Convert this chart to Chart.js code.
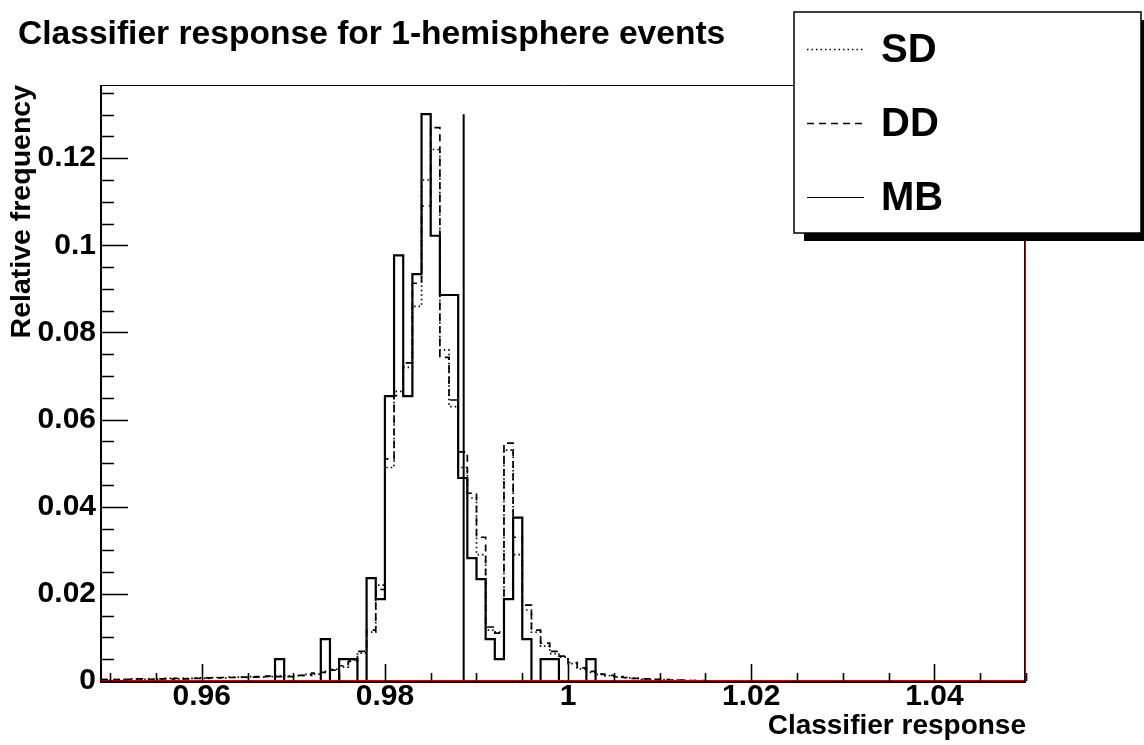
<!DOCTYPE html>
<html>
<head>
<meta charset="utf-8">
<title>Classifier response for 1-hemisphere events</title>
<script src="https://cdn.jsdelivr.net/npm/chart.js@4.4.0/dist/chart.umd.min.js"></script>
<style>
  html, body { margin: 0; padding: 0; background: #fff; }
  #wrap { width: 1144px; height: 745px; }
</style>
</head>
<body>
<div id="wrap"><canvas id="chart" width="1144" height="745"></canvas></div>
<script>
// binning: 101 bins of width 0.001 starting at 0.949
const binLow = 0.949;
const binWidth = 0.001;
const xRange = [0.949, 1.050];
const yRange = [0, 0.1368];

// relative frequency per bin, 10 bins per row
const sdValues = [
  0.0004, 0.0003, 0.0003, 0.0005, 0.0004, 0.0005, 0.0004, 0.0006, 0.0005, 0.0006,
  0.0007, 0.0006, 0.0008, 0.0007, 0.0009, 0.0008, 0.0010, 0.0009, 0.0010, 0.0012,
  0.0012, 0.0012, 0.0015, 0.0016, 0.0022, 0.0027, 0.0032, 0.0048, 0.0064, 0.0112,
  0.0220, 0.0490, 0.0665, 0.0720, 0.0860, 0.1150, 0.1220, 0.0760, 0.0630, 0.0490,
  0.0420, 0.0290, 0.0117, 0.0112, 0.0530, 0.0290, 0.0163, 0.0112, 0.0080, 0.0063,
  0.0055, 0.0040, 0.0028, 0.0020, 0.0015, 0.0012, 0.0009, 0.0007, 0.0006, 0.0004,
  0.0003, 0.0003, 0.0002, 0.0001, 0.0001, 0, 0, 0, 0, 0,
  0, 0, 0, 0, 0, 0, 0, 0, 0, 0,
  0, 0, 0, 0, 0, 0, 0, 0, 0, 0,
  0, 0, 0, 0, 0, 0, 0, 0, 0, 0,
  0
];
const ddValues = [
  0.0003, 0.0003, 0.0004, 0.0004, 0.0005, 0.0004, 0.0005, 0.0005, 0.0006, 0.0005,
  0.0006, 0.0007, 0.0007, 0.0008, 0.0008, 0.0009, 0.0009, 0.0010, 0.0011, 0.0010,
  0.0010, 0.0013, 0.0013, 0.0018, 0.0020, 0.0025, 0.0035, 0.0045, 0.0068, 0.0117,
  0.0210, 0.0510, 0.0655, 0.0730, 0.0913, 0.1090, 0.1270, 0.0743, 0.0645, 0.0526,
  0.0431, 0.0330, 0.0124, 0.0110, 0.0546, 0.0330, 0.0174, 0.0117, 0.0087, 0.0068,
  0.0057, 0.0042, 0.0030, 0.0022, 0.0016, 0.0013, 0.0010, 0.0008, 0.0006, 0.0005,
  0.0004, 0.0003, 0.0002, 0.0002, 0.0001, 0.0001, 0, 0, 0, 0,
  0, 0, 0, 0, 0, 0, 0, 0, 0, 0,
  0, 0, 0, 0, 0, 0, 0, 0, 0, 0,
  0, 0, 0, 0, 0, 0, 0, 0, 0, 0,
  0
];
const mbValues = [
  0, 0, 0, 0, 0, 0, 0, 0, 0, 0,
  0, 0, 0, 0, 0, 0, 0, 0, 0, 0.0050,
  0, 0, 0, 0, 0.0096, 0, 0.0050, 0.0050, 0, 0.0236,
  0.0188, 0.0654, 0.0977, 0.0654, 0.0934, 0.1301, 0.1022, 0.0886, 0.0886, 0.0466,
  0.0282, 0.0234, 0.0096, 0.0050, 0.0188, 0.0375, 0.0096, 0, 0.0050, 0.0050,
  0, 0, 0, 0.0050, 0, 0, 0, 0, 0, 0,
  0, 0, 0, 0, 0, 0, 0, 0, 0, 0,
  0, 0, 0, 0, 0, 0, 0, 0, 0, 0,
  0, 0, 0, 0, 0, 0, 0, 0, 0, 0,
  0, 0, 0, 0, 0, 0, 0, 0, 0, 0,
  0
];

// classifier cut
const cutValue = 0.9886;
const cutHeight = 0.1301;

const seriesNames = ["SD", "DD", "MB"];

const FONT = "'Liberation Sans', Arial, Helvetica, sans-serif";

// left edges plus the closing edge, one step point per edge
function toSteps(values) {
  const pts = values.map((v, i) => ({ x: +(binLow + i * binWidth).toFixed(4), y: v }));
  pts.push({ x: +(binLow + values.length * binWidth).toFixed(4), y: values[values.length - 1] });
  return pts;
}

// frame, red zero/edge lines and inward ticks
const rootFrame = {
  id: "rootFrame",
  afterDatasetsDraw(chart) {
    const { ctx, chartArea: a, scales: { x, y } } = chart;
    ctx.save();
    ctx.strokeStyle = "#000";

    // top border
    ctx.lineWidth = 1;
    ctx.beginPath();
    ctx.moveTo(a.left, a.top + 0.5);
    ctx.lineTo(a.right, a.top + 0.5);
    ctx.stroke();

    // left and bottom axes
    ctx.lineWidth = 2;
    ctx.beginPath();
    ctx.moveTo(a.left, a.top);
    ctx.lineTo(a.left, a.bottom + 1);
    ctx.lineTo(a.right, a.bottom + 1);
    ctx.stroke();

    // red lines along zero and the upper x edge
    const y0 = y.getPixelForValue(0);
    const xr = x.getPixelForValue(xRange[1]);
    ctx.strokeStyle = "#d00000";
    ctx.lineWidth = 1;
    ctx.beginPath();
    ctx.moveTo(a.left, y0 - 0.5);
    ctx.lineTo(xr, y0 - 0.5);
    ctx.moveTo(xr - 0.5, y0);
    ctx.lineTo(xr - 0.5, a.top);
    ctx.stroke();
    ctx.strokeStyle = "#000";
    ctx.beginPath();
    ctx.moveTo(xr - 1.5, a.top);
    ctx.lineTo(xr - 1.5, y0);
    ctx.stroke();

    // y ticks: major every 0.02, minor every 0.005
    ctx.lineWidth = 1.6;
    ctx.beginPath();
    for (let k = 0; k * 0.005 <= yRange[1]; k++) {
      const py = Math.round(y.getPixelForValue(k * 0.005)) + 0.5;
      const len = k % 4 === 0 ? 27 : 13;
      ctx.moveTo(a.left, py);
      ctx.lineTo(a.left + len, py);
    }
    // x ticks: major every 0.02, minor every 0.005
    for (let k = 0; k <= 20; k++) {
      const px = Math.round(x.getPixelForValue(0.95 + k * 0.005)) + 0.5;
      const len = (k - 2) % 4 === 0 ? 17 : 8;
      ctx.moveTo(px, a.bottom);
      ctx.lineTo(px, a.bottom - len);
    }
    ctx.stroke();
    ctx.restore();
  }
};

// title and boxed legend with drop shadow
const rootDecor = {
  id: "rootDecor",
  afterDraw(chart) {
    const { ctx } = chart;
    ctx.save();
    ctx.fillStyle = "#000";
    ctx.font = "bold 33.6px " + FONT;
    ctx.textBaseline = "alphabetic";
    ctx.textAlign = "left";
    ctx.fillText("Classifier response for 1-hemisphere events", 18, 44);

    const box = { x: 794, y: 12, w: 347, h: 221 };
    ctx.fillStyle = "#000";
    ctx.fillRect(box.x + 10, box.y + 8, box.w, box.h);
    ctx.fillStyle = "#fff";
    ctx.fillRect(box.x, box.y, box.w, box.h);
    ctx.strokeStyle = "#000";
    ctx.lineWidth = 1.5;
    ctx.strokeRect(box.x, box.y, box.w, box.h);

    ctx.font = "bold 40px " + FONT;
    ctx.textBaseline = "middle";
    seriesNames.forEach((name, i) => {
      const ds = chart.data.datasets.find(d => d.label === name);
      const cy = box.y + 37 + i * 74;
      ctx.strokeStyle = ds.borderColor;
      ctx.lineWidth = ds.legendWidth;
      ctx.setLineDash(ds.borderDash || []);
      ctx.beginPath();
      ctx.moveTo(box.x + 13, cy + 0.5);
      ctx.lineTo(box.x + 70, cy + 0.5);
      ctx.stroke();
      ctx.setLineDash([]);
      ctx.fillStyle = "#000";
      ctx.fillText(name, box.x + 87, cy + 2);
    });
    ctx.restore();
  }
};

new Chart(document.getElementById("chart"), {
  type: "line",
  data: {
    datasets: [
      {
        label: "SD",
        data: toSteps(sdValues),
        borderColor: "#000",
        borderWidth: 1.7,
        legendWidth: 1.5,
        borderDash: [1.5, 3],
        stepped: "before"
      },
      {
        label: "DD",
        data: toSteps(ddValues),
        borderColor: "#000",
        borderWidth: 1.7,
        legendWidth: 1.5,
        borderDash: [7, 5],
        stepped: "before"
      },
      {
        label: "MB",
        data: toSteps(mbValues),
        borderColor: "#000",
        borderWidth: 2.2,
        legendWidth: 1.2,
        stepped: "before"
      },
      {
        label: "cut",
        data: [{ x: cutValue, y: 0 }, { x: cutValue, y: cutHeight }],
        borderColor: "#000",
        borderWidth: 2
      }
    ]
  },
  options: {
    responsive: false,
    animation: false,
    events: [],
    elements: { point: { radius: 0 }, line: { tension: 0, fill: false } },
    layout: { padding: { top: 85, right: 118, left: 0, bottom: 0 } },
    plugins: {
      legend: { display: false },
      title: { display: false },
      tooltip: { enabled: false }
    },
    scales: {
      x: {
        type: "linear",
        min: xRange[0],
        max: xRange[1],
        grid: { display: false, drawTicks: false },
        border: { display: false },
        afterFit(scale) { scale.height = 64; },
        ticks: {
          stepSize: 0.02,
          includeBounds: false,
          autoSkip: false,
          maxRotation: 0,
          padding: 1,
          color: "#000",
          font: { family: FONT, size: 30, weight: "bold", lineHeight: 1 },
          callback: v => String(+v.toFixed(2))
        },
        title: {
          display: true,
          text: "Classifier response",
          align: "end",
          color: "#000",
          padding: { top: 0, bottom: 2 },
          font: { family: FONT, size: 28, weight: "bold" }
        }
      },
      y: {
        type: "linear",
        min: yRange[0],
        max: yRange[1],
        grid: { display: false, drawTicks: false },
        border: { display: false },
        afterFit(scale) { scale.width = 101; },
        ticks: {
          stepSize: 0.02,
          includeBounds: false,
          autoSkip: false,
          padding: 5,
          color: "#000",
          font: { family: FONT, size: 30, weight: "bold" },
          callback: v => String(+v.toFixed(2))
        },
        title: {
          display: true,
          text: "Relative frequency",
          align: "end",
          color: "#000",
          padding: { top: 5, bottom: 0 },
          font: { family: FONT, size: 28.5, weight: "bold" }
        }
      }
    }
  },
  plugins: [rootFrame, rootDecor]
});
</script>
</body>
</html>
